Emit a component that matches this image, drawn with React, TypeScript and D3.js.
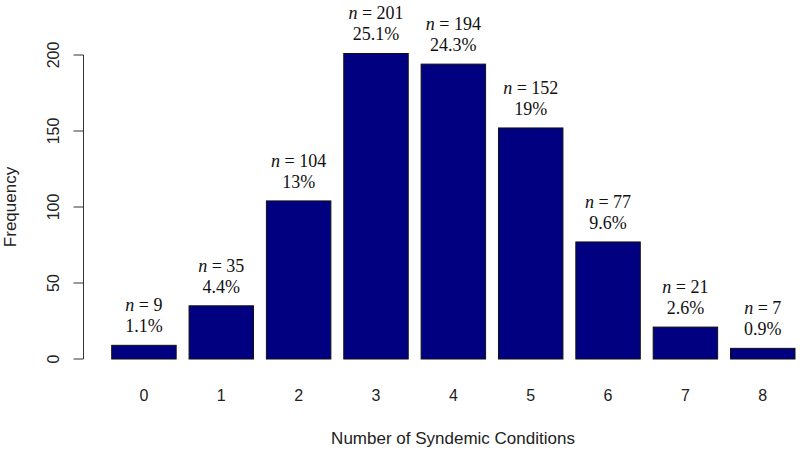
import React, { useEffect, useRef } from "react";
import * as d3 from "d3";

// counts per number of syndemic conditions
const categories = ["0", "1", "2", "3", "4", "5", "6", "7", "8"];
const counts = [9, 35, 104, 201, 194, 152, 77, 21, 7];
const percents = ["1.1%", "4.4%", "13%", "25.1%", "24.3%", "19%", "9.6%", "2.6%", "0.9%"];
const yTicks = [0, 50, 100, 150, 200];

const sans = "Liberation Sans, Arial, sans-serif";

const App = () => {
  const svgRef = useRef<SVGSVGElement>(null);

  useEffect(() => {
    const width = 800;
    const height = 451;
    const svg = d3.select(svgRef.current);
    svg.selectAll("*").remove();

    const x = d3
      .scaleBand()
      .domain(categories)
      .range([111.7, 795])
      .paddingInner(1 / 6)
      .paddingOuter(0);

    const y = d3.scaleLinear().domain([0, 200]).range([359, 55]);

    // y axis (R style, rotated tick labels)
    const axisX = 83.5;
    svg
      .append("line")
      .attr("x1", axisX)
      .attr("x2", axisX)
      .attr("y1", y(0))
      .attr("y2", y(200))
      .attr("stroke", "#333")
      .attr("stroke-width", 1);

    const tick = svg
      .selectAll("g.ytick")
      .data(yTicks)
      .enter()
      .append("g")
      .attr("class", "ytick");

    tick
      .append("line")
      .attr("x1", axisX - 10)
      .attr("x2", axisX)
      .attr("y1", (d) => y(d))
      .attr("y2", (d) => y(d))
      .attr("stroke", "#333");

    tick
      .append("text")
      .attr("transform", (d) => `translate(58.5,${y(d)}) rotate(-90)`)
      .attr("text-anchor", "middle")
      .attr("font-family", sans)
      .attr("font-size", 16)
      .attr("fill", "#222")
      .text((d) => d);

    svg
      .append("text")
      .attr("transform", `translate(15.5,${y(100)}) rotate(-90)`)
      .attr("text-anchor", "middle")
      .attr("font-family", sans)
      .attr("font-size", 17)
      .attr("fill", "#222")
      .text("Frequency");

    // bars
    svg
      .selectAll("rect.bar")
      .data(counts)
      .enter()
      .append("rect")
      .attr("class", "bar")
      .attr("x", (d, i) => x(categories[i])!)
      .attr("y", (d) => y(d))
      .attr("width", x.bandwidth())
      .attr("height", (d) => y(0) - y(d))
      .attr("fill", "#000080")
      .attr("stroke", "#111")
      .attr("stroke-width", 1);

    // category labels
    svg
      .selectAll("text.xlab")
      .data(categories)
      .enter()
      .append("text")
      .attr("class", "xlab")
      .attr("x", (d) => x(d)! + x.bandwidth() / 2)
      .attr("y", 401)
      .attr("text-anchor", "middle")
      .attr("font-family", sans)
      .attr("font-size", 16)
      .attr("fill", "#222")
      .text((d) => d);

    svg
      .append("text")
      .attr("x", 453)
      .attr("y", 444)
      .attr("text-anchor", "middle")
      .attr("font-family", sans)
      .attr("font-size", 17)
      .attr("fill", "#222")
      .text("Number of Syndemic Conditions");

    // n / percent annotations
    const ann = svg
      .selectAll("g.ann")
      .data(counts)
      .enter()
      .append("g")
      .attr("class", "ann")
      .attr("font-family", "Liberation Serif, Times New Roman, serif")
      .attr("font-size", 18)
      .attr("fill", "#111");

    const nLine = ann
      .append("text")
      .attr("x", (d, i) => x(categories[i])! + x.bandwidth() / 2)
      .attr("y", (d) => y(d) - 34)
      .attr("text-anchor", "middle");
    nLine.append("tspan").attr("font-style", "italic").text("n");
    nLine.append("tspan").text((d) => ` = ${d}`);

    ann
      .append("text")
      .attr("x", (d, i) => x(categories[i])! + x.bandwidth() / 2)
      .attr("y", (d) => y(d) - 13)
      .attr("text-anchor", "middle")
      .text((d, i) => percents[i]);

    svg.attr("width", width).attr("height", height);
  }, []);

  return (
    <div style={{ position: "absolute", left: 0, top: 0, background: "#fff" }}>
      <svg ref={svgRef} style={{ display: "block" }} />
    </div>
  );
};

export default App;
